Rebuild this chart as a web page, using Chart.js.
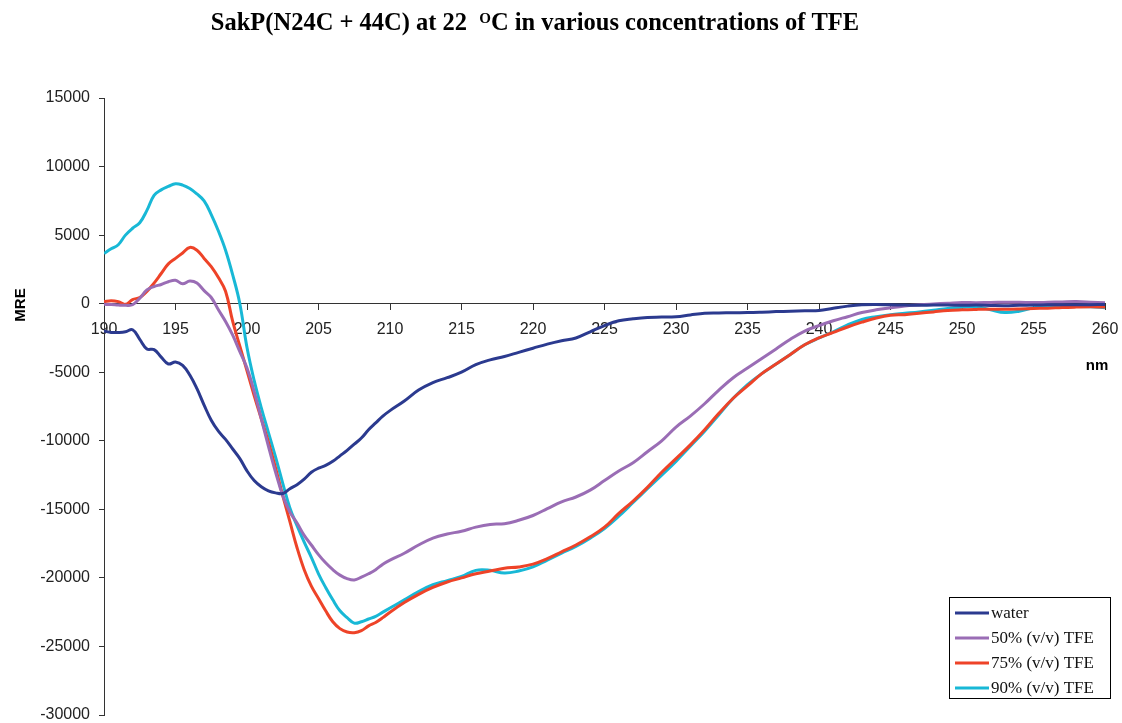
<!DOCTYPE html>
<html>
<head>
<meta charset="utf-8">
<script src="https://cdn.jsdelivr.net/npm/chart.js@4.4.1/dist/chart.umd.min.js"></script>
<style>
  html, body { margin: 0; padding: 0; background: #fff; }
  #wrap { width: 1122px; height: 723px; position: relative; }
</style>
</head>
<body>
<div id="wrap"><canvas id="chart1"></canvas></div>
<script>
// wavelength grid (nm)
const wavelengths = [
  190, 190.5, 191, 191.5, 192, 192.5, 193, 193.5, 194, 194.5,
  195, 195.5, 196, 196.5, 197, 197.5, 198, 198.5, 199, 199.5,
  200, 200.5, 201, 201.5, 202, 202.5, 203, 203.5, 204, 204.5,
  205, 205.5, 206, 206.5, 207, 207.5, 208, 208.5, 209, 209.5,
  210, 211, 212, 213, 214, 215, 216, 217, 218, 219,
  220, 221, 222, 223, 224, 225, 226, 227, 228, 229,
  230, 231, 232, 233, 234, 235, 236, 237, 238, 239,
  240, 241, 242, 243, 244, 245, 246, 247, 248, 249,
  250, 251, 252, 253, 254, 255, 256, 257, 258, 259, 260
];

const water = [
  -2000, -2100, -2100, -2050, -1900, -2600, -3300, -3350, -3900, -4400,
  -4250, -4500, -5200, -6200, -7400, -8500, -9300, -9900, -10600, -11300,
  -12200, -12900, -13350, -13650, -13800, -13850, -13500, -13200, -12800, -12300,
  -12000, -11800, -11500, -11100, -10700, -10250, -9800, -9200, -8700, -8200,
  -7800, -7100, -6300, -5750, -5400, -5000, -4450, -4100, -3850, -3550,
  -3250, -2950, -2700, -2500, -2050, -1600, -1250, -1100, -1000, -980,
  -950, -820, -700, -680, -660, -650, -620, -580, -550, -520,
  -500, -330, -180, -80, -60, -80, -100, -120, -100, -100,
  -120, -100, -130, -150, -120, -100, -80, -70, -80, -70, -60
];

const tfe50 = [
  -50, -60, -100, -120, -80, 400, 1000, 1250, 1400, 1600,
  1700, 1450, 1650, 1500, 950, 450, -450, -1300, -2300, -3500,
  -4700, -6400, -8400, -10400, -12300, -14000, -15200, -16000, -16900, -17600,
  -18300, -18900, -19400, -19800, -20050, -20150, -19950, -19700, -19400, -19000,
  -18700, -18200, -17600, -17100, -16800, -16600, -16300, -16100, -16050, -15800,
  -15450, -14950, -14450, -14100, -13600, -12900, -12200, -11600, -10800, -10000,
  -9000, -8200, -7300, -6300, -5400, -4700, -4000, -3300, -2600, -2000,
  -1600, -1250, -950, -650, -450, -300, -170, -80, -20, 30,
  80, 70, 90, 100, 100, 80, 100, 130, 150, 110, 60
];

const tfe75 = [
  150, 220, 150, -50, 300, 450, 900, 1500, 2200, 2900,
  3300, 3700, 4100, 3900, 3300, 2700, 1900, 900, -1300, -3100,
  -4900, -6700, -8400, -10100, -12000, -14000, -15900, -17800, -19400, -20600,
  -21500, -22400, -23200, -23700, -23950, -24000, -23850, -23500, -23250, -22900,
  -22500, -21800, -21200, -20700, -20300, -20000, -19700, -19500, -19300, -19200,
  -19000, -18600, -18100, -17600, -17000, -16300, -15300, -14400, -13400, -12300,
  -11300, -10300, -9200, -8000, -6900, -6000, -5100, -4400, -3700, -3000,
  -2500, -2100, -1700, -1350, -1050, -850, -800, -700, -600, -500,
  -450, -420, -400, -400, -380, -350, -330, -280, -250, -230, -250
];

const tfe90 = [
  3650, 4000, 4300, 5000, 5500, 5900, 6800, 7900, 8300, 8550,
  8750, 8650, 8400, 8000, 7500, 6500, 5300, 3900, 2100, 0,
  -3200, -5600, -7600, -9400, -11200, -13100, -14900, -16200, -17400, -18500,
  -19700, -20700, -21600, -22400, -22900, -23300, -23200, -23000, -22800, -22500,
  -22200, -21600, -21000, -20500, -20200, -19900, -19450, -19450, -19650, -19500,
  -19200, -18700, -18200, -17700, -17100, -16400, -15500, -14500, -13500, -12500,
  -11500, -10400, -9300, -8100, -6900, -5900, -5100, -4400, -3700, -3000,
  -2500, -2050, -1550, -1150, -950, -800, -700, -600, -480, -350,
  -270, -220, -450, -650, -550, -300, -230, -200, -200, -220, -300
];

const seriesLabels = ['water', '50% (v/v) TFE', '75% (v/v) TFE', '90% (v/v) TFE'];
const seriesColors = ['#2b3a8f', '#9a6db5', '#ee4328', '#18b8d6'];
const seriesValues = [water, tfe50, tfe75, tfe90];

const chartTitle = ['SakP(N24C + 44C) at 22  ', 'O', 'C in various concentrations of TFE'];
const yTitle = 'MRE';
const xTitle = 'nm';

function toPoints(values) {
  return values.map((v, i) => ({ x: wavelengths[i], y: v }));
}

// keep tick label overhang from shrinking the plot area
function noOverhang(scale) {
  scale.paddingTop = 0;
  scale.paddingBottom = 0;
  scale.paddingLeft = 0;
  scale.paddingRight = 0;
}

// title, axis titles and boxed legend drawn on the canvas
const decorations = {
  id: 'decorations',
  afterDraw(chart) {
    const ctx = chart.ctx;
    ctx.save();

    // title with superscript O
    const big = 'bold 24.5px "Liberation Serif", "Times New Roman", serif';
    const small = 'bold 15px "Liberation Serif", "Times New Roman", serif';
    ctx.font = big;
    const w1 = ctx.measureText(chartTitle[0]).width;
    const w3 = ctx.measureText(chartTitle[2]).width;
    ctx.font = small;
    const w2 = ctx.measureText(chartTitle[1]).width;
    let x = 535 - (w1 + w2 + w3) / 2;
    const base = 30;
    ctx.fillStyle = '#000';
    ctx.textBaseline = 'alphabetic';
    ctx.textAlign = 'left';
    ctx.font = big;
    ctx.fillText(chartTitle[0], x, base);
    x += w1;
    ctx.font = small;
    ctx.fillText(chartTitle[1], x, base - 7);
    x += w2;
    ctx.font = big;
    ctx.fillText(chartTitle[2], x, base);

    // axis titles
    ctx.font = 'bold 15px "Liberation Sans", Arial, sans-serif';
    ctx.fillStyle = '#000';
    ctx.textAlign = 'center';
    ctx.textBaseline = 'middle';
    ctx.save();
    ctx.translate(21, 305);
    ctx.rotate(-Math.PI / 2);
    ctx.fillText(yTitle, 0, 0);
    ctx.restore();
    ctx.fillText(xTitle, 1097, 366);

    // legend box
    const lx = 949.5, ly = 597.5, lw = 161, lh = 101;
    ctx.fillStyle = '#fff';
    ctx.fillRect(lx, ly, lw, lh);
    ctx.strokeStyle = '#000';
    ctx.lineWidth = 1;
    ctx.strokeRect(lx, ly, lw, lh);
    ctx.font = '17px "Liberation Serif", "Times New Roman", serif';
    ctx.textAlign = 'left';
    ctx.textBaseline = 'middle';
    chart.data.datasets.forEach((ds, i) => {
      const ry = 613 + i * 25;
      ctx.strokeStyle = ds.borderColor;
      ctx.lineWidth = 3;
      ctx.beginPath();
      ctx.moveTo(955, ry);
      ctx.lineTo(989, ry);
      ctx.stroke();
      ctx.fillStyle = '#111';
      ctx.fillText(ds.label, 991, ry + 1);
    });
    ctx.restore();
  }
};

const ctx = document.getElementById('chart1');
new Chart(ctx, {
  type: 'line',
  data: {
    datasets: seriesValues.map((vals, i) => ({
      label: seriesLabels[i],
      data: toPoints(vals),
      borderColor: seriesColors[i],
      backgroundColor: seriesColors[i],
      borderWidth: 3,
      pointRadius: 0,
      tension: 0.4,
      fill: false
    }))
  },
  options: {
    responsive: true,
    maintainAspectRatio: false,
    animation: false,
    layout: { padding: { left: 0, top: 98, right: 17, bottom: 8 } },
    plugins: {
      legend: { display: false },
      title: { display: false },
      tooltip: { enabled: false }
    },
    scales: {
      x: {
        type: 'linear',
        min: 190,
        max: 260,
        position: { y: 0 },
        afterFit: (scale) => { scale.height = 0; noOverhang(scale); },
        grid: { drawOnChartArea: false, drawTicks: true, tickLength: 6, color: '#333' },
        border: { display: true, color: '#333', width: 1 },
        ticks: {
          stepSize: 5,
          autoSkip: false,
          maxRotation: 0,
          padding: 10,
          color: '#222',
          font: { family: '"Liberation Sans", Arial, sans-serif', size: 16 },
          callback: (v) => String(v)
        }
      },
      y: {
        min: -30000,
        max: 15000,
        afterFit: (scale) => { scale.width = 104; noOverhang(scale); },
        grid: { drawOnChartArea: false, drawTicks: true, tickLength: 5, color: '#333' },
        border: { display: true, color: '#333', width: 1 },
        ticks: {
          stepSize: 5000,
          padding: 9,
          color: '#222',
          font: { family: '"Liberation Sans", Arial, sans-serif', size: 16 },
          callback: (v) => String(v)
        }
      }
    }
  },
  plugins: [decorations]
});
</script>
</body>
</html>
